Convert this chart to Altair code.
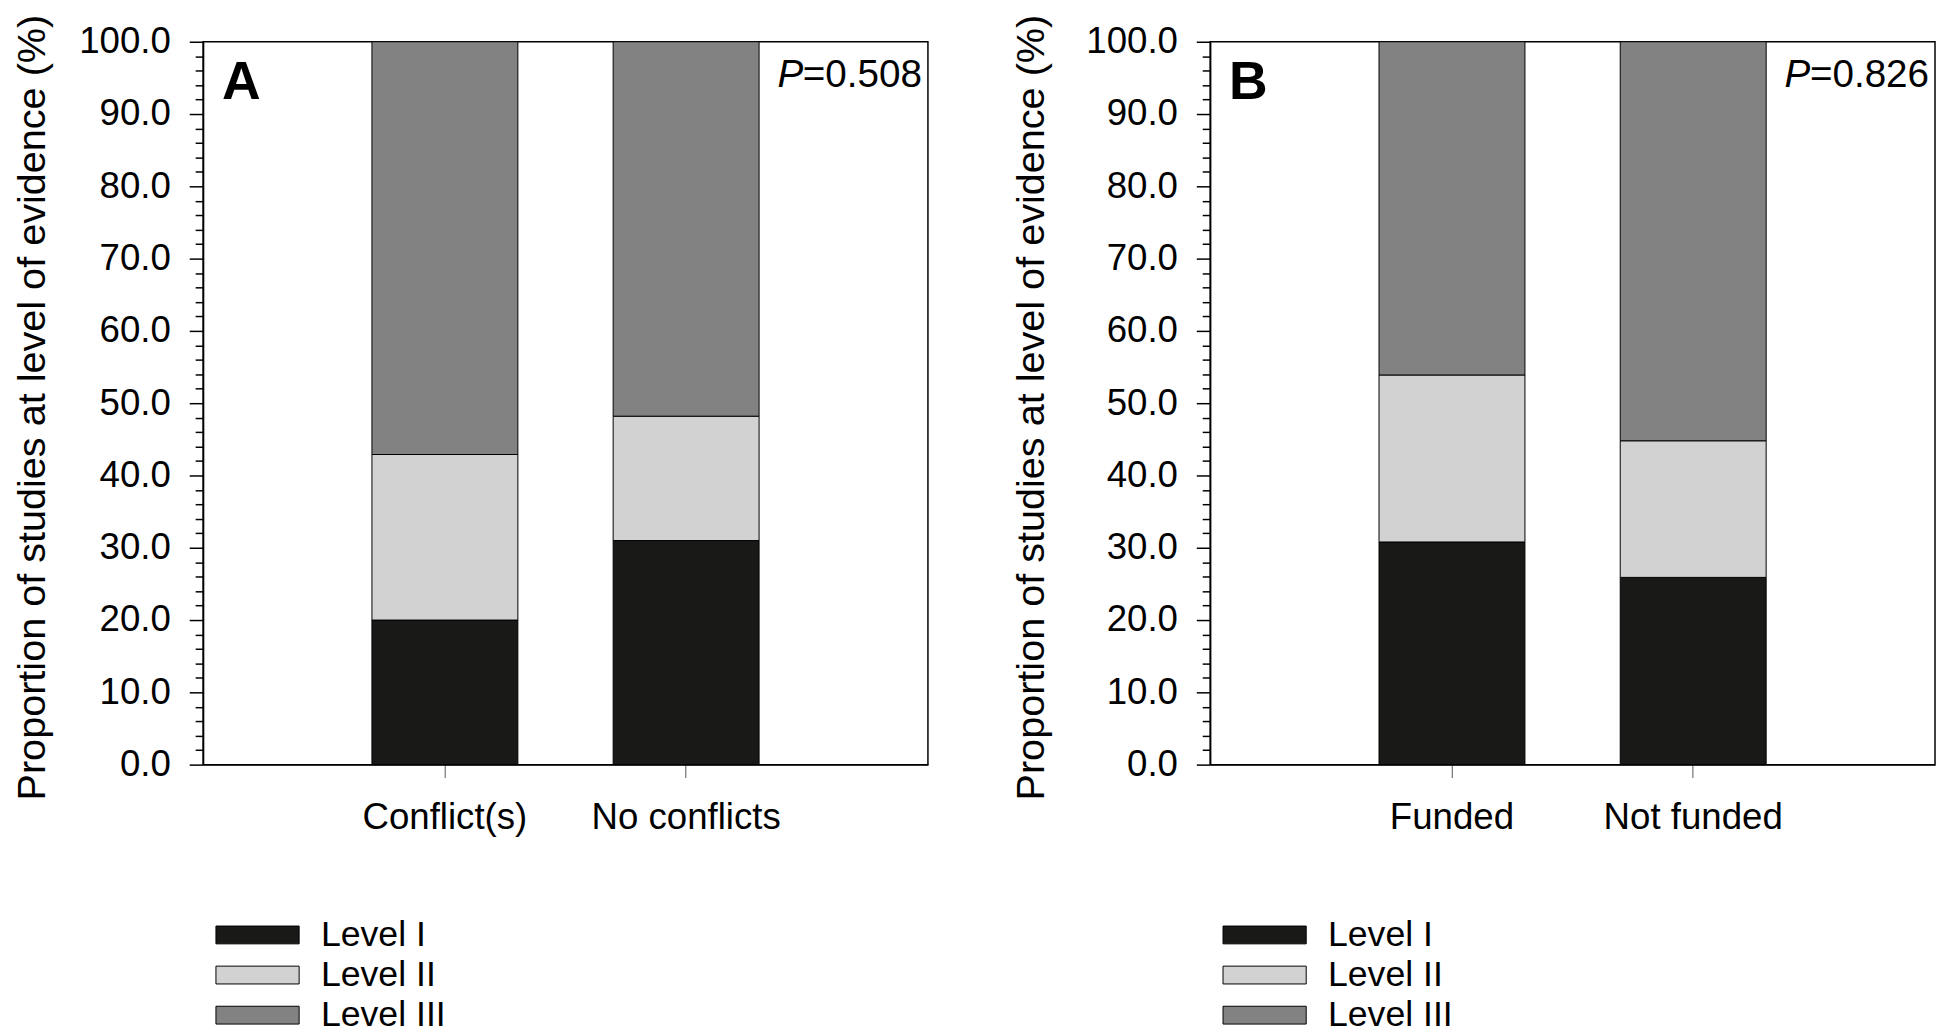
import altair as alt
import pandas as pd

FONT = "Liberation Sans"

levels = ["Level I", "Level II", "Level III"]
level_colors = ["#191917", "#d1d2d1", "#828282"]

groups_a = ["Conflict(s)", "No conflicts"]
a_level1 = [20.0, 31.0]
a_level2 = [22.9, 17.2]
a_level3 = [57.1, 51.8]
p_a = "=0.508"

groups_b = ["Funded", "Not funded"]
b_level1 = [30.8, 25.9]
b_level2 = [23.1, 18.9]
b_level3 = [46.1, 55.2]
p_b = "=0.826"

y_title = "Proportion of studies at level of evidence (%)"
y_tick_values = list(range(0, 101, 2))

W, H = 732, 730


def panel(groups, l1, l2, l3, letter, ptext, title_x):
    rows = []
    for g, a, b, c in zip(groups, l1, l2, l3):
        for i, (lev, v) in enumerate(zip(levels, (a, b, c))):
            rows.append({"group": g, "level": lev, "value": v, "order": i})
    df = pd.DataFrame(rows)

    x = alt.X(
        "group:N", sort=groups, title=None,
        scale=alt.Scale(paddingInner=0.395, paddingOuter=0.7, align=0.5),
        axis=alt.Axis(labelAngle=0, labelFontSize=37, labelFont=FONT, labelColor="black",
                      labelLimit=0, tickSize=13, tickColor="#555555", tickWidth=1,
                      labelPadding=23, domainColor="black", domainWidth=1.5,
                      bandPosition=0.5, labelBaseline="top"),
    )
    y = alt.Y(
        "value:Q", stack="zero", title=y_title,
        scale=alt.Scale(domain=[0, 100], nice=False),
        axis=alt.Axis(
            values=y_tick_values,
            labelExpr="datum.value % 10 === 0 ? format(datum.value, '.1f') : ''",
            labelOverlap=False, labelFontSize=37, labelFont=FONT, labelColor="black",
            labelPadding=19,
            tickSize={"condition": {"test": "datum.value % 10 === 0", "value": 14}, "value": 8},
            tickColor="black", tickWidth=1.5, domainColor="black", domainWidth=1.5,
            titleFontSize=40, titleFont=FONT, titleFontWeight="normal", titleColor="black",
            titleAngle=270, titleBaseline="alphabetic", titleX=title_x, titleY=369,
        ),
    )
    color = alt.Color(
        "level:N", scale=alt.Scale(domain=levels, range=level_colors),
        legend=alt.Legend(
            title=None, orient="none", legendX=37, legendY=884, direction="vertical",
            symbolType="M-4.667,-1H4.667V1H-4.667Z", symbolSize=324,
            symbolStrokeColor="black", symbolStrokeWidth=1, symbolOpacity=1,
            labelFontSize=36, labelFont=FONT, labelColor="black", labelOffset=46,
            labelLimit=0, rowPadding=4.5, padding=0,
        ),
    )
    bars = alt.Chart(df).mark_bar(stroke="black", strokeWidth=1).encode(
        x=x, y=y, color=color, order=alt.Order("order:Q")
    )
    letter_mark = alt.Chart(pd.DataFrame({"t": [letter]})).mark_text(
        align="left", baseline="alphabetic", fontSize=54, fontWeight="bold",
        font=FONT, color="black"
    ).encode(x=alt.value(19), y=alt.value(58), text="t:N")
    p_val = alt.Chart(pd.DataFrame({"t": [ptext]})).mark_text(
        align="right", baseline="alphabetic", fontSize=39, font=FONT, color="black"
    ).encode(x=alt.value(W - 6), y=alt.value(46), text="t:N")
    p_letter = alt.Chart(pd.DataFrame({"t": ["P"]})).mark_text(
        align="right", baseline="alphabetic", fontSize=39, font=FONT,
        fontStyle="italic", color="black"
    ).encode(x=alt.value(W - 6 - 120), y=alt.value(46), text="t:N")
    return alt.layer(bars, letter_mark, p_val, p_letter).properties(width=W, height=H)


pa = panel(groups_a, a_level1, a_level2, a_level3, "A", p_a, -160)
pb = panel(groups_b, b_level1, b_level2, b_level3, "B", p_b, -168)

chart = alt.hconcat(
    pa, pb, spacing=83,
    padding={"left": 4, "top": 0, "right": 0, "bottom": 0},
).resolve_scale(color="independent").resolve_legend(color="independent").configure_view(
    stroke="black", strokeWidth=1.5
).configure_axis(grid=False)

chart.save("out.html", embed_options={"renderer": "svg", "actions": False})
